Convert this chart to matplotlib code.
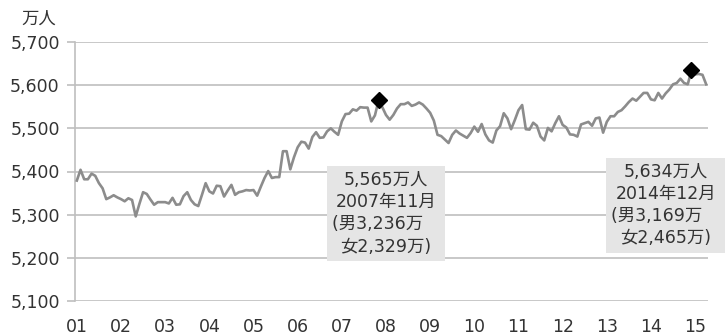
import matplotlib
matplotlib.use("Agg")
import matplotlib.pyplot as plt
import numpy as np

plt.rcParams['font.family'] = ['DejaVu Sans', 'Noto Sans CJK JP']

# monthly employed persons (10k people), Jan 2001 - Apr 2015
y2001 = [5379, 5404, 5382, 5382, 5395, 5390, 5373, 5361, 5336, 5340, 5345, 5340]
y2002 = [5336, 5331, 5338, 5334, 5296, 5325, 5352, 5348, 5335, 5323, 5329, 5329]
y2003 = [5329, 5326, 5339, 5323, 5324, 5343, 5352, 5334, 5324, 5320, 5346, 5373]
y2004 = [5354, 5349, 5367, 5366, 5342, 5356, 5369, 5346, 5352, 5354, 5357, 5356]
y2005 = [5357, 5344, 5365, 5385, 5401, 5385, 5387, 5387, 5447, 5447, 5405, 5433]
y2006 = [5456, 5469, 5467, 5453, 5480, 5491, 5478, 5479, 5493, 5500, 5492, 5485]
y2007 = [5516, 5533, 5534, 5544, 5541, 5549, 5548, 5548, 5516, 5530, 5565, 5549]
y2008 = [5531, 5520, 5531, 5546, 5556, 5556, 5560, 5552, 5555, 5560, 5555, 5546]
y2009 = [5536, 5518, 5485, 5482, 5474, 5466, 5485, 5495, 5488, 5483, 5478, 5489]
y2010 = [5504, 5492, 5510, 5486, 5472, 5467, 5495, 5505, 5535, 5523, 5498, 5519]
y2011 = [5542, 5554, 5498, 5497, 5513, 5506, 5481, 5472, 5501, 5493, 5512, 5528]
y2012 = [5508, 5502, 5486, 5485, 5481, 5509, 5512, 5515, 5506, 5523, 5525, 5490]
y2013 = [5515, 5528, 5528, 5538, 5542, 5551, 5561, 5569, 5564, 5573, 5582, 5582]
y2014 = [5567, 5565, 5582, 5569, 5581, 5590, 5602, 5605, 5615, 5605, 5602, 5634]
y2015 = [5625, 5626, 5624, 5602]

employed = (y2001 + y2002 + y2003 + y2004 + y2005 + y2006 + y2007 + y2008
            + y2009 + y2010 + y2011 + y2012 + y2013 + y2014 + y2015)

year_labels = ['01', '02', '03', '04', '05', '06', '07', '08', '09', '10',
               '11', '12', '13', '14', '15']
yticks = [5100, 5200, 5300, 5400, 5500, 5600, 5700]

# highlighted months: (index, value, text)
peak_idx = [82, 167]
peak_val = [5565, 5634]
peak_text = ['5,565万人\n2007年11月\n(男3,236万\u3000\n女2,329万)',
             '5,634万人\n2014年12月\n(男3,169万\u3000\n女2,465万)']
box_pos = [(84.0, 5303), (160.0, 5322)]

grid_col = '#bfbfbf'
text_col = '#333333'

fig = plt.figure(figsize=(7.25, 3.35), dpi=100)
ax = fig.add_axes([75 / 725, 1 - 301 / 335, 633 / 725, 259 / 335])

x = np.arange(len(employed))
ax.plot(x, employed, color='#8c8c8c', lw=1.9, zorder=4)
ax.plot(peak_idx, peak_val, 'D', color='black', ms=8, zorder=5)

for (bx, by), txt in zip(box_pos, peak_text):
    ax.text(bx, by, txt, ha='center', va='center', multialignment='center',
            fontsize=12.5, color=text_col, linespacing=1.3, zorder=6,
            bbox=dict(boxstyle='square,pad=0.3', fc='#e5e5e5', ec='none'))

ax.set_xlim(-0.5, len(employed) - 0.5)
ax.set_ylim(5100, 5700)
ax.set_yticks(yticks)
ax.set_yticklabels([f'{v:,}' for v in yticks])
ax.set_xticks(np.arange(len(year_labels)) * 12)
ax.set_xticklabels(year_labels)

ax.yaxis.grid(True, color=grid_col, lw=1.2)
ax.set_axisbelow(True)
for s in ['top', 'right', 'bottom']:
    ax.spines[s].set_visible(False)
ax.spines['left'].set_color(grid_col)
ax.spines['left'].set_linewidth(1.2)

ax.tick_params(axis='y', length=6, color=grid_col, width=1.2, pad=5,
               labelsize=12.5, labelcolor=text_col)
ax.tick_params(axis='x', length=0, pad=12, labelsize=12.5, labelcolor=text_col)

fig.text(39 / 725, 1 - 19 / 335, '万人', ha='center', va='center',
         fontsize=12.5, color=text_col)

fig.savefig('out.png', dpi=100)
